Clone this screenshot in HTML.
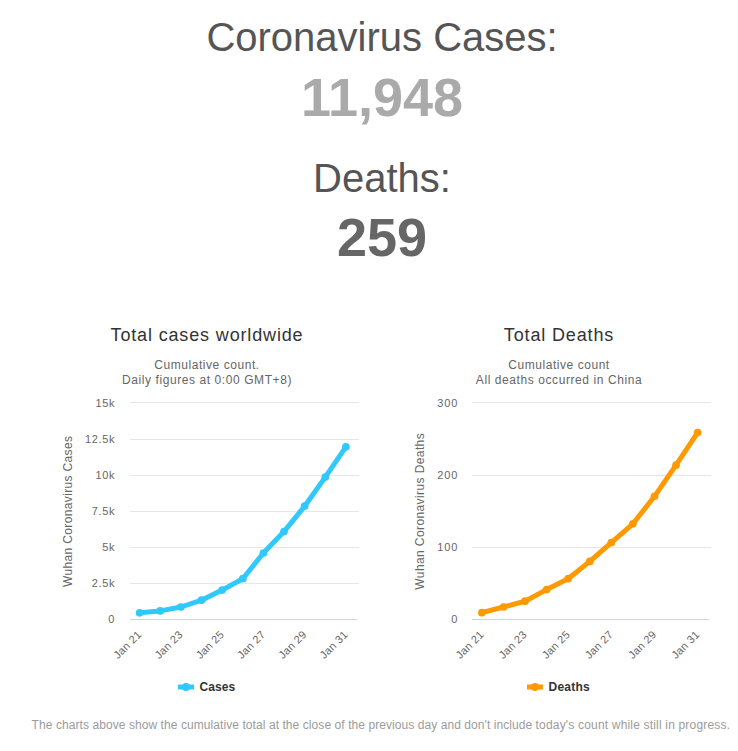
<!DOCTYPE html>
<html><head><meta charset="utf-8"><title>Coronavirus</title>
<style>
html,body{margin:0;padding:0;background:#fff;}
body{width:738px;height:751px;position:relative;overflow:hidden;font-family:"Liberation Sans",sans-serif;}
.h{position:absolute;left:0;width:764px;text-align:center;white-space:nowrap;}
#t1{top:14px;font-size:40px;line-height:46px;color:#555;transform:scaleY(1.035);transform-origin:0 36.85px;}
#n1{top:66px;font-size:54px;line-height:62px;color:#aaa;font-weight:bold;}
#t2{top:155px;font-size:40px;line-height:46px;color:#555;transform:scaleY(1.035);transform-origin:0 36.85px;}
#n2{top:206px;font-size:54px;line-height:62px;color:#666;font-weight:bold;}
#foot{position:absolute;left:31.6px;top:717px;font-size:12px;line-height:16px;color:#9b9b9b;white-space:nowrap;}
svg{position:absolute;left:0;top:0;}
svg text{font-family:"Liberation Sans",sans-serif;}
</style></head><body>
<div class="h" id="t1">Coronavirus Cases:</div>
<div class="h" id="n1">11,948</div>
<div class="h" id="t2">Deaths:</div>
<div class="h" id="n2">259</div>
<svg width="738" height="751" viewBox="0 0 738 751">

<path d="M130 402.5H359" stroke="#e6e6e6" stroke-width="1" fill="none"/>
<text x="115" y="407" text-anchor="end" font-size="11" fill="#666" letter-spacing="0.6">15k</text>
<path d="M130 439.5H359" stroke="#e6e6e6" stroke-width="1" fill="none"/>
<text x="115" y="443" text-anchor="end" font-size="11" fill="#666" letter-spacing="0.6">12.5k</text>
<path d="M130 475.5H359" stroke="#e6e6e6" stroke-width="1" fill="none"/>
<text x="115" y="479" text-anchor="end" font-size="11" fill="#666" letter-spacing="0.6">10k</text>
<path d="M130 511.5H359" stroke="#e6e6e6" stroke-width="1" fill="none"/>
<text x="115" y="515" text-anchor="end" font-size="11" fill="#666" letter-spacing="0.6">7.5k</text>
<path d="M130 547.5H359" stroke="#e6e6e6" stroke-width="1" fill="none"/>
<text x="115" y="551" text-anchor="end" font-size="11" fill="#666" letter-spacing="0.6">5k</text>
<path d="M130 583.5H359" stroke="#e6e6e6" stroke-width="1" fill="none"/>
<text x="115" y="587" text-anchor="end" font-size="11" fill="#666" letter-spacing="0.6">2.5k</text>
<text x="115" y="623" text-anchor="end" font-size="11" fill="#666" letter-spacing="0.6">0</text>
<path d="M130 619.5H357" stroke="#ccd4e4" stroke-width="1" fill="none"/>
<text x="207" y="341" text-anchor="middle" font-size="18" fill="#333" letter-spacing="0.85">Total cases worldwide</text>
<text x="207" y="369" text-anchor="middle" font-size="12" fill="#666" letter-spacing="0.55">Cumulative count.</text>
<text x="207" y="384" text-anchor="middle" font-size="12" fill="#666" letter-spacing="0.58">Daily figures at 0:00 GMT+8)</text>
<text transform="translate(72,511.3) rotate(-90)" text-anchor="middle" font-size="12" fill="#666" letter-spacing="0.35">Wuhan Coronavirus Cases</text>
<path d="M139.6 612.8 L160.2 610.9 L180.9 607.0 L201.5 600.2 L222.1 590.1 L242.8 578.7 L263.4 553.0 L284.0 531.6 L304.6 506.2 L325.3 477.1 L345.9 446.8" stroke="#30c8fd" stroke-width="5" fill="none" stroke-linejoin="round" stroke-linecap="round"/>
<circle cx="139.6" cy="612.8" r="3.85" fill="#30c8fd"/>
<circle cx="160.2" cy="610.9" r="3.85" fill="#30c8fd"/>
<circle cx="180.9" cy="607.0" r="3.85" fill="#30c8fd"/>
<circle cx="201.5" cy="600.2" r="3.85" fill="#30c8fd"/>
<circle cx="222.1" cy="590.1" r="3.85" fill="#30c8fd"/>
<circle cx="242.8" cy="578.7" r="3.85" fill="#30c8fd"/>
<circle cx="263.4" cy="553.0" r="3.85" fill="#30c8fd"/>
<circle cx="284.0" cy="531.6" r="3.85" fill="#30c8fd"/>
<circle cx="304.6" cy="506.2" r="3.85" fill="#30c8fd"/>
<circle cx="325.3" cy="477.1" r="3.85" fill="#30c8fd"/>
<circle cx="345.9" cy="446.8" r="3.85" fill="#30c8fd"/>
<text transform="translate(142.1,635.4) rotate(-45)" text-anchor="end" font-size="11" fill="#666" letter-spacing="0.2">Jan 21</text>
<text transform="translate(183.4,635.4) rotate(-45)" text-anchor="end" font-size="11" fill="#666" letter-spacing="0.2">Jan 23</text>
<text transform="translate(224.6,635.4) rotate(-45)" text-anchor="end" font-size="11" fill="#666" letter-spacing="0.2">Jan 25</text>
<text transform="translate(265.9,635.4) rotate(-45)" text-anchor="end" font-size="11" fill="#666" letter-spacing="0.2">Jan 27</text>
<text transform="translate(307.1,635.4) rotate(-45)" text-anchor="end" font-size="11" fill="#666" letter-spacing="0.2">Jan 29</text>
<text transform="translate(348.4,635.4) rotate(-45)" text-anchor="end" font-size="11" fill="#666" letter-spacing="0.2">Jan 31</text>
<path d="M178 687H194" stroke="#30c8fd" stroke-width="5"/>
<circle cx="186" cy="687" r="4" fill="#30c8fd"/>
<text x="199.5" y="691" font-size="12" font-weight="bold" fill="#333" letter-spacing="0.1">Cases</text>
<path d="M472 402.5H711" stroke="#e6e6e6" stroke-width="1" fill="none"/>
<text x="458.2" y="407" text-anchor="end" font-size="11" fill="#666" letter-spacing="0.9">300</text>
<path d="M472 475.5H711" stroke="#e6e6e6" stroke-width="1" fill="none"/>
<text x="458.2" y="479" text-anchor="end" font-size="11" fill="#666" letter-spacing="0.9">200</text>
<path d="M472 547.5H711" stroke="#e6e6e6" stroke-width="1" fill="none"/>
<text x="458.2" y="551" text-anchor="end" font-size="11" fill="#666" letter-spacing="0.9">100</text>
<text x="458.2" y="623" text-anchor="end" font-size="11" fill="#666" letter-spacing="0.9">0</text>
<path d="M472 619.5H709" stroke="#ccd4e4" stroke-width="1" fill="none"/>
<text x="559" y="341" text-anchor="middle" font-size="18" fill="#333" letter-spacing="0.85">Total Deaths</text>
<text x="559" y="369" text-anchor="middle" font-size="12" fill="#666" letter-spacing="0.55">Cumulative count</text>
<text x="559" y="384" text-anchor="middle" font-size="12" fill="#666" letter-spacing="0.58">All deaths occurred in China</text>
<text transform="translate(424,511.3) rotate(-90)" text-anchor="middle" font-size="12" fill="#666" letter-spacing="0.4">Wuhan Coronavirus Deaths</text>
<path d="M481.9 612.7 L503.5 607.0 L525.0 601.2 L546.6 589.6 L568.2 578.7 L589.8 561.4 L611.3 542.6 L632.9 523.8 L654.5 496.3 L676.0 465.2 L697.6 432.6" stroke="#ff9900" stroke-width="5" fill="none" stroke-linejoin="round" stroke-linecap="round"/>
<circle cx="481.9" cy="612.7" r="3.85" fill="#ff9900"/>
<circle cx="503.5" cy="607.0" r="3.85" fill="#ff9900"/>
<circle cx="525.0" cy="601.2" r="3.85" fill="#ff9900"/>
<circle cx="546.6" cy="589.6" r="3.85" fill="#ff9900"/>
<circle cx="568.2" cy="578.7" r="3.85" fill="#ff9900"/>
<circle cx="589.8" cy="561.4" r="3.85" fill="#ff9900"/>
<circle cx="611.3" cy="542.6" r="3.85" fill="#ff9900"/>
<circle cx="632.9" cy="523.8" r="3.85" fill="#ff9900"/>
<circle cx="654.5" cy="496.3" r="3.85" fill="#ff9900"/>
<circle cx="676.0" cy="465.2" r="3.85" fill="#ff9900"/>
<circle cx="697.6" cy="432.6" r="3.85" fill="#ff9900"/>
<text transform="translate(484.4,635.4) rotate(-45)" text-anchor="end" font-size="11" fill="#666" letter-spacing="0.2">Jan 21</text>
<text transform="translate(527.5,635.4) rotate(-45)" text-anchor="end" font-size="11" fill="#666" letter-spacing="0.2">Jan 23</text>
<text transform="translate(570.7,635.4) rotate(-45)" text-anchor="end" font-size="11" fill="#666" letter-spacing="0.2">Jan 25</text>
<text transform="translate(613.8,635.4) rotate(-45)" text-anchor="end" font-size="11" fill="#666" letter-spacing="0.2">Jan 27</text>
<text transform="translate(657.0,635.4) rotate(-45)" text-anchor="end" font-size="11" fill="#666" letter-spacing="0.2">Jan 29</text>
<text transform="translate(700.1,635.4) rotate(-45)" text-anchor="end" font-size="11" fill="#666" letter-spacing="0.2">Jan 31</text>
<path d="M527 687H543" stroke="#ff9900" stroke-width="5"/>
<circle cx="535" cy="687" r="4" fill="#ff9900"/>
<text x="548.6" y="691" font-size="12" font-weight="bold" fill="#333" letter-spacing="0.2">Deaths</text>
</svg>
<div id="foot"><span style="letter-spacing:0.074px">The charts above show the cumulative total at the close of the </span><span style="letter-spacing:0.066px">previous day and don't include </span><span style="letter-spacing:0.181px">today's count while still in progress.</span></div>
</body></html>
